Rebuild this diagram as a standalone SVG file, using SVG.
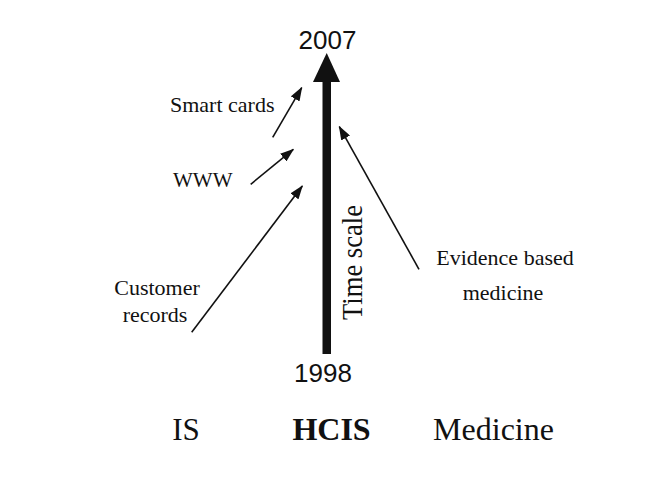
<svg xmlns="http://www.w3.org/2000/svg" width="668" height="484" viewBox="0 0 668 484">
<style>
.serif{font-family:"Liberation Serif","Times New Roman",serif;fill:#111}
.sans{font-family:"Liberation Sans",Arial,sans-serif;fill:#111}
.conn{stroke:#111;stroke-width:1.6;fill:none;marker-end:url(#ah)}
</style>
<defs>
<marker id="ah" viewBox="0 0 14 10" refX="13" refY="5" markerWidth="14" markerHeight="10" markerUnits="userSpaceOnUse" orient="auto">
<path d="M0,0 L14,5 L0,10 Z" fill="#111"/>
</marker>
</defs>
<rect width="668" height="484" fill="#fff"/>
<g id="timeline">
<rect x="322.5" y="80" width="8.5" height="274" fill="#111"/>
<polygon points="326.7,53 313,82 340,82" fill="#111"/>
<text class="sans" x="327.5" y="49" font-size="26" text-anchor="middle">2007</text>
<text class="sans" x="323" y="382" font-size="26" text-anchor="middle">1998</text>
<text class="serif" transform="translate(362,320) rotate(-90)" font-size="29" textLength="115" lengthAdjust="spacingAndGlyphs">Time scale</text>
</g>
<g id="smart-cards"><text class="serif" x="170" y="112" font-size="22">Smart cards</text></g>
<g id="www"><text class="serif" x="173" y="187" font-size="21">WWW</text></g>
<g id="customer-records">
<text class="serif" x="157" y="295" font-size="22" text-anchor="middle">Customer</text>
<text class="serif" x="155" y="322" font-size="22" text-anchor="middle">records</text>
</g>
<g id="evidence-based-medicine">
<text class="serif" x="505" y="265" font-size="22" text-anchor="middle">Evidence based</text>
<text class="serif" x="503" y="300" font-size="22" text-anchor="middle">medicine</text>
</g>
<g id="is"><text class="serif" x="186" y="440" font-size="31" text-anchor="middle">IS</text></g>
<g id="hcis"><text class="serif" x="331.5" y="440" font-size="32" font-weight="bold" text-anchor="middle">HCIS</text></g>
<g id="medicine"><text class="serif" x="493.5" y="440" font-size="32" text-anchor="middle">Medicine</text></g>
<g id="connectors">
<line class="conn" x1="272.7" y1="137.3" x2="301.7" y2="87.7"/>
<line class="conn" x1="250.7" y1="184.3" x2="293.3" y2="149.3"/>
<line class="conn" x1="191.7" y1="332.3" x2="302.3" y2="186"/>
<line class="conn" x1="419" y1="269.3" x2="339.3" y2="126.7"/>
</g>
</svg>
